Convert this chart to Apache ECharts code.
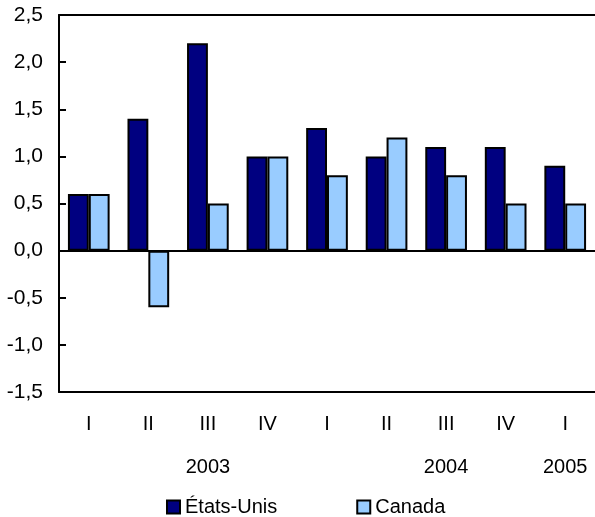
<!DOCTYPE html>
<html>
<head>
<meta charset="utf-8">
<script src="https://cdn.jsdelivr.net/npm/echarts@6/dist/echarts.min.js"></script>
<style>html,body{margin:0;padding:0;background:#fff;}#c{width:595px;height:517px;}</style>
</head>
<body>
<div id="c"></div>
<script>
var quarters = ['I', 'II', 'III', 'IV', 'I', 'II', 'III', 'IV', 'I'];
var yearLabels = ['', '', '2003', '', '', '', '2004', '', '2005'];
var etatsUnis = [0.6, 1.4, 2.2, 1.0, 1.3, 1.0, 1.1, 1.1, 0.9];
var canada = [0.6, -0.6, 0.5, 1.0, 0.8, 1.2, 0.8, 0.5, 0.5];
var yTicks = [-1.5, -1.0, -0.5, 0.0, 0.5, 1.0, 1.5, 2.0, 2.5];

var font = 'Liberation Sans, Arial, sans-serif';
var fs = 20;
var chart = echarts.init(document.getElementById('c'));
chart.setOption({
  animation: false,
  textStyle: { fontFamily: font },
  grid: { left: 59, right: -2, top: 15, bottom: 125, containLabel: false },
  legend: {
    bottom: 0,
    left: 166,
    padding: 0,
    icon: 'rect',
    itemWidth: 13,
    itemHeight: 13,
    itemGap: 79,
    textStyle: { fontSize: fs, color: '#000', fontFamily: font },
    data: ['États-Unis', 'Canada']
  },
  xAxis: [
    {
      type: 'category',
      data: quarters,
      position: 'bottom',
      axisLine: { onZero: false, lineStyle: { color: '#000', width: 2 } },
      axisTick: { inside: true, length: 7, lineStyle: { color: '#000', width: 2 } },
      axisLabel: { color: '#000', fontSize: fs, margin: 22, interval: 0, fontFamily: font }
    },
    {
      type: 'category',
      data: quarters,
      position: 'bottom',
      offset: 57,
      axisLine: { show: false },
      axisTick: { show: false },
      axisLabel: { color: '#000', fontSize: fs, interval: 0, fontFamily: font,
        formatter: function (v, i) { return yearLabels[i]; } }
    },
    {
      type: 'category',
      data: quarters,
      position: 'top',
      axisLine: { onZero: false, lineStyle: { color: '#000', width: 2 } },
      axisTick: { show: false },
      axisLabel: { show: false }
    }
  ],
  yAxis: {
    type: 'value',
    min: yTicks[0],
    max: yTicks[yTicks.length - 1],
    interval: 0.5,
    axisLine: { show: true, lineStyle: { color: '#000', width: 2 } },
    axisTick: { show: true, inside: true, length: 7, lineStyle: { color: '#000', width: 2 } },
    splitLine: { show: false },
    axisLabel: {
      color: '#000', fontSize: 21, margin: 16, fontFamily: font,
      formatter: function (v) { return v.toFixed(1).replace('.', ','); }
    }
  },
  series: [
    {
      name: 'États-Unis',
      type: 'bar',
      data: etatsUnis,
      barWidth: '35%',
      barGap: '0%',
      itemStyle: { color: '#000080', borderColor: '#000', borderWidth: 2 },
      markLine: {
        silent: true,
        symbol: 'none',
        label: { show: false },
        lineStyle: { color: '#000', width: 2, type: 'solid' },
        data: [{ yAxis: 0 }]
      }
    },
    {
      name: 'Canada',
      type: 'bar',
      data: canada,
      barWidth: '35%',
      barGap: '0%',
      itemStyle: { color: '#99CCFF', borderColor: '#000', borderWidth: 2 }
    }
  ]
});
</script>
</body>
</html>
